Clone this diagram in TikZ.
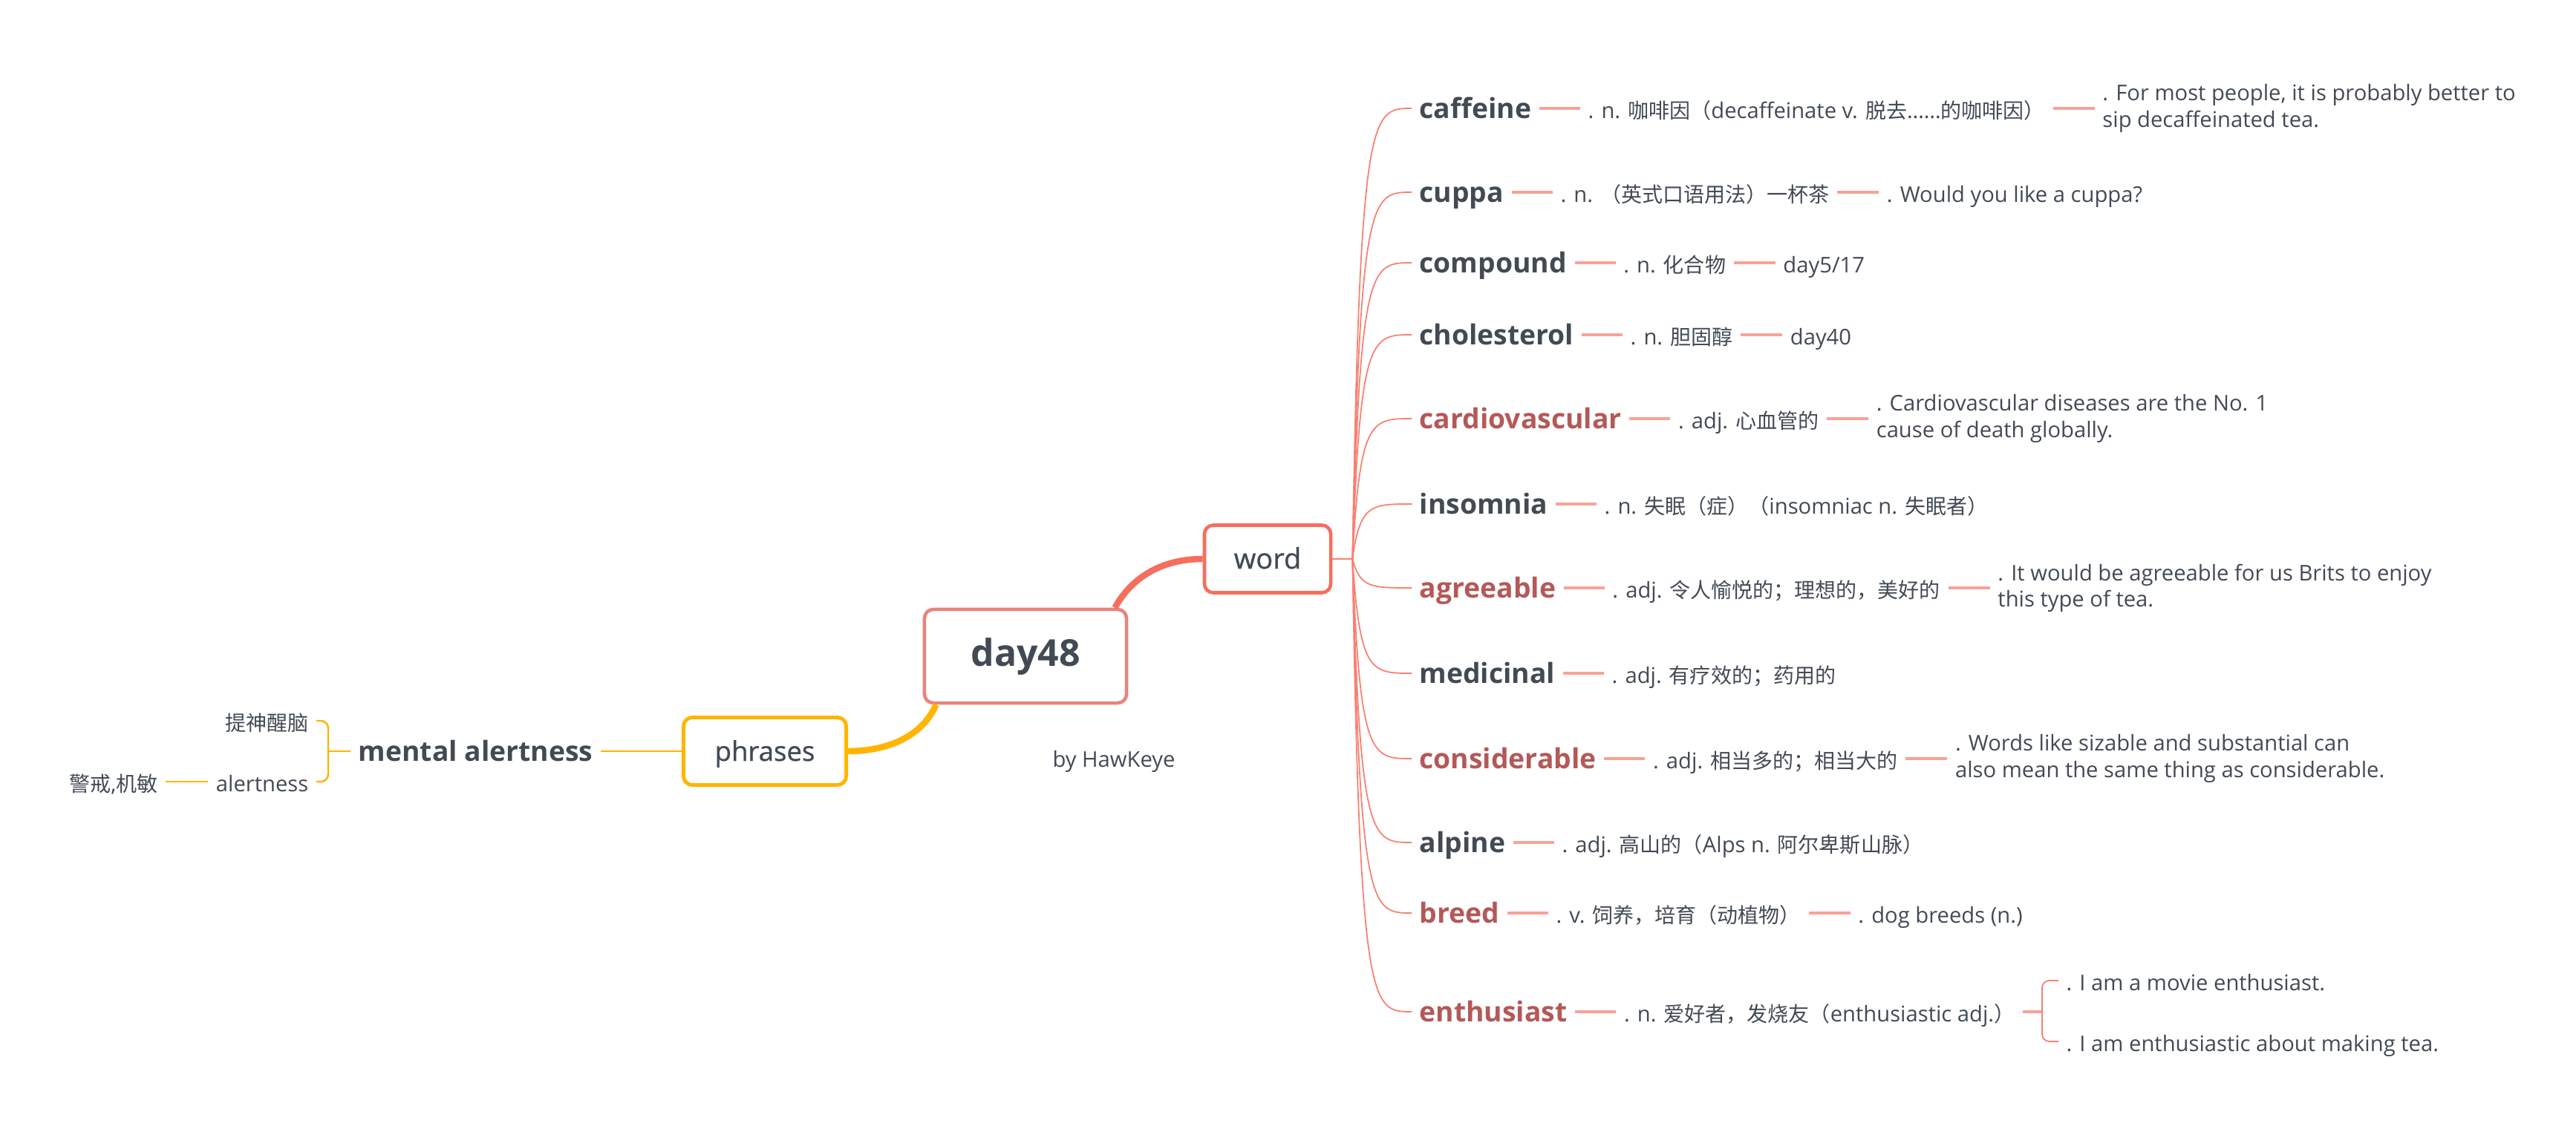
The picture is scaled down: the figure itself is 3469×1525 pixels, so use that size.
\documentclass[tikz,border=0pt]{standalone}
\usepackage{fontspec}
\setmainfont{Open Sans}
\newfontfamily\semib{Open Sans}[FakeBold=0.8]
\newfontfamily\cjk{Noto Sans CJK SC}[Scale=0.96]
\newcommand{\zh}[1]{{\cjk #1}}
\usetikzlibrary{positioning, calc}

\definecolor{ink}{RGB}{66,74,84}
\definecolor{rose}{RGB}{180,88,88}
\definecolor{dayc}{RGB}{233,131,124}
\definecolor{wordc}{RGB}{246,110,92}
\definecolor{amber}{RGB}{255,180,0}
\definecolor{twigc}{RGB}{248,128,114}
\definecolor{leafc}{RGB}{249,162,150}

\begin{document}
\begin{tikzpicture}[x=0.01cm, y=-0.01cm,
		every node/.style = {inner sep=0.1cm, text=ink},
		head/.style = {font=\fontsize{10.6}{12}\selectfont\bfseries,
			text height=0.84em, text depth=0.1em},
		hot/.style = {head, text=rose},
		def/.style = {font=\fontsize{8.3}{10}\selectfont,
			text height=0.84em, text depth=0.1em},
		sent/.style = {font=\fontsize{8.3}{10}\selectfont, align=left},
		box/.style = {draw, rounded corners=0.12cm, fill=white,
			text height=0.84em, text depth=0.1em},
		twig/.style = {draw=twigc, line width=0.5pt},
		leaf/.style = {draw=leafc, line width=1pt},
		yel/.style = {draw=amber, line width=0.7pt}
                    ]
		\useasboundingbox (0,0) rectangle (3469,1525);

		% centre and main branches
		\node(day) [box, draw=dayc, line width=1.3pt, minimum width=2.72cm, minimum height=1.26cm,
			font=\fontsize{14.2}{16}\selectfont\bfseries] at (1381,884) {day48};
		\node(word) [box, draw=wordc, line width=1.3pt, minimum width=1.70cm, minimum height=0.91cm,
			font=\fontsize{10.8}{12}\selectfont\semib] at (1707,753) {word};
		\node(phr) [box, draw=amber, line width=1.4pt, minimum width=2.19cm, minimum height=0.91cm,
			font=\fontsize{10.4}{12}\selectfont\semib] at (1030,1012) {phrases};
		\node(by) [def] at (1500,1020) {by HawKeye};

		\draw[wordc, line width=2.4pt] ([xshift=-0.18cm]day.north east) .. controls +(25,-45) and +(-50,0) .. (word.west);
		\draw[amber, line width=2.4pt] ([xshift=0.18cm]day.south west) .. controls +(-20,45) and +(50,0) .. (phr.east);

		% phrases
		\node(ma) [head, left=1.09cm of phr] {mental alertness};
		\coordinate (mj) at ($(ma.west)+(-30,0)$);
		\node(tsxn) [def, anchor=east] at (426,971) {\zh{提神醒脑}};
		\node(alert) [def, anchor=east] at (426,1053) {alertness};
		\node(jj) [def, left=0.57cm of alert] {\zh{警戒},\zh{机敏}};
		\draw[yel] (phr.west) -- (ma.east);
		\draw[yel] (mj) -- (ma.west);
		\draw[yel, rounded corners=0.1cm] (tsxn.east) -| (mj) |- (alert.east);
		\draw[yel] (alert.west) -- (jj.east);

		% words
		\coordinate (wj) at ($(word.east)+(27,0)$);
		\draw[twig] (word.east) -- (wj);
		\node(caff) [head, anchor=west] at (1901,146) {caffeine};
		\node(cuppa) [head, anchor=west] at (1901,259) {cuppa};
		\node(comp) [head, anchor=west] at (1901,354) {compound};
		\node(chol) [head, anchor=west] at (1901,451) {cholesterol};
		\node(card) [hot, anchor=west] at (1901,564) {cardiovascular};
		\node(insom) [head, anchor=west] at (1901,679) {insomnia};
		\node(agree) [hot, anchor=west] at (1901,792) {agreeable};
		\node(medic) [head, anchor=west] at (1901,907) {medicinal};
		\node(consid) [hot, anchor=west] at (1901,1022) {considerable};
		\node(alp) [head, anchor=west] at (1901,1135) {alpine};
		\node(breed) [hot, anchor=west] at (1901,1230) {breed};
		\node(enth) [hot, anchor=west] at (1901,1363) {enthusiast};

		\foreach \w in {caff, cuppa, comp, chol, card, insom, agree, medic, consid, alp, breed, enth}
			\draw[twig] (wj) .. controls ($(wj |- \w.west)+(10,0)$) and ($(wj |- \w.west)+(25,0)$) .. (\w.west);

		\node(caffd) [def, right=0.55cm of caff] {. n. \zh{咖啡因（}decaffeinate v. \zh{脱去}……\zh{的咖啡因）}};
		\node(caffs) [sent, right=0.56cm of caffd] {. For most people, it is probably better to\\sip decaffeinated tea.};
		\node(cuppad) [def, right=0.55cm of cuppa] {. n. \zh{（英式口语用法）一杯茶}};
		\node(cuppas) [def, right=0.56cm of cuppad] {. Would you like a cuppa?};
		\node(compd) [def, right=0.55cm of comp] {. n. \zh{化合物}};
		\node(comps) [def, right=0.56cm of compd] {day5/17};
		\node(chold) [def, right=0.55cm of chol] {. n. \zh{胆固醇}};
		\node(chols) [def, right=0.56cm of chold] {day40};
		\node(cardd) [def, right=0.55cm of card] {. adj. \zh{心血管的}};
		\node(cards) [sent, right=0.56cm of cardd] {. Cardiovascular diseases are the No. 1\\cause of death globally.};
		\node(insomd) [def, right=0.55cm of insom] {. n. \zh{失眠（症）（}insomniac n. \zh{失眠者）}};
		\node(agreed) [def, right=0.55cm of agree] {. adj. \zh{令人愉悦的；理想的，美好的}};
		\node(agrees) [sent, right=0.56cm of agreed] {. It would be agreeable for us Brits to enjoy\\this type of tea.};
		\node(medicd) [def, right=0.55cm of medic] {. adj. \zh{有疗效的；药用的}};
		\node(considd) [def, right=0.55cm of consid] {. adj. \zh{相当多的；相当大的}};
		\node(consids) [sent, right=0.56cm of considd] {. Words like sizable and substantial can\\also mean the same thing as considerable.};
		\node(alpd) [def, right=0.55cm of alp] {. adj. \zh{高山的（}Alps n. \zh{阿尔卑斯山脉）}};
		\node(breedd) [def, right=0.55cm of breed] {. v. \zh{饲养，培育（动植物）}};
		\node(breeds) [def, right=0.56cm of breedd] {. dog breeds (n.)};
		\node(enthd) [def, right=0.55cm of enth] {. n. \zh{爱好者，发烧友（}enthusiastic adj.\zh{）}};

		\foreach \a/\b in {caff/caffd, caffd/caffs, cuppa/cuppad, cuppad/cuppas, comp/compd, compd/comps,
				chol/chold, chold/chols, card/cardd, cardd/cards, insom/insomd, agree/agreed, agreed/agrees,
				medic/medicd, consid/considd, considd/consids, alp/alpd, breed/breedd, breedd/breeds, enth/enthd}
			\draw[leaf] (\a) -- (\b);

		\coordinate (ej) at ($(enthd.east)+(26,0)$);
		\node(enth1) [def, anchor=west] at ($(ej)+(22,-42)$) {. I am a movie enthusiast.};
		\node(enth2) [def, anchor=west] at ($(ej)+(22,40)$) {. I am enthusiastic about making tea.};
		\draw[leaf] (enthd.east) -- (ej);
		\draw[twig, rounded corners=0.1cm] (enth1.west) -| (ej) |- (enth2.west);
	\end{tikzpicture}
\end{document}
